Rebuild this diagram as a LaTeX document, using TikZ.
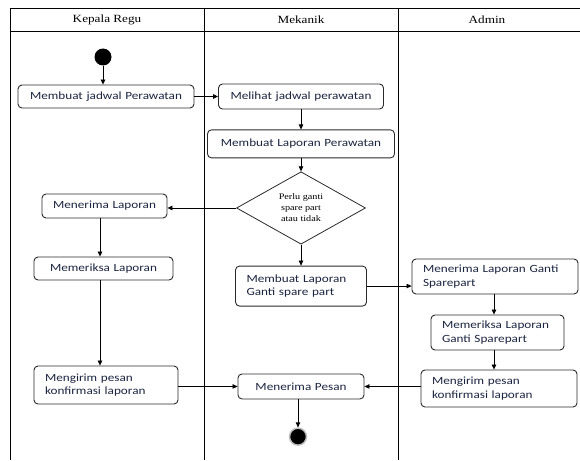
\documentclass[tikz,border=0pt]{standalone}
\usepackage{fontspec}
\newfontfamily\boxfont{Carlito}[FakeStretch=1.2]
\newfontfamily\headfont{Liberation Serif}[FakeStretch=1.2]
\usetikzlibrary{arrows.meta,positioning,shapes.geometric}
\definecolor{ink}{HTML}{1A2440}
\definecolor{rim}{HTML}{2A2A2A}

\begin{document}
\begin{tikzpicture}[
  x=1pt,y=-1pt,
  node distance=20pt,
  box/.style={draw=rim,line width=0.9pt,rounded corners=4pt,inner xsep=11pt,inner ysep=2pt,align=center,
    font=\boxfont\fontsize{11}{13.3}\selectfont,text=ink},
  box2/.style={box,align=left},
  dec/.style={draw=rim,line width=0.8pt,diamond,inner sep=0pt,minimum width=129pt,minimum height=71pt,
    align=center,font=\headfont\fontsize{8.5}{11}\selectfont},
  lane/.style={font=\headfont\fontsize{11}{13}\selectfont},
  dot/.style={circle,fill=black,minimum size=17pt,inner sep=0pt},
  arr/.style={-{Triangle[length=5pt,width=4.5pt]},draw=black,line width=0.7pt}
]
\useasboundingbox (0,0) rectangle (580,460);
% swimlanes
\draw[line width=0.8pt] (10,460) -- (10,8) -- (580,8);
\draw[line width=0.8pt] (10,31) -- (580,31);
\draw[line width=0.8pt] (204,8) -- (204,460);
\draw[line width=0.8pt] (398,8) -- (398,460);
\node[lane] (hKR) at (107,20) {Kepala Regu};
\node[lane] (hMk) at (301,20) {Mekanik};
\node[lane] (hAd) at (487,20) {Admin};
% Mekanik
\node[box,text width=143pt,minimum height=25pt] (lihat) at (301,96.5) {Melihat jadwal perawatan};
\node[box,text width=165pt,minimum height=28pt,below=of lihat] (lapor) {Membuat Laporan Perawatan};
\node[dec,below=13pt of lapor] (cek) {Perlu ganti\\spare part\\atau tidak};
\node[box2,text width=109pt,minimum height=40pt,below=21pt of cek] (ganti) {Membuat Laporan\\Ganti spare part};
\node[box,text width=104pt,minimum height=25pt,below=67pt of ganti] (pesan) {Menerima Pesan};
\node[circle,fill=black,draw=black!25,line width=1.5pt,minimum size=17pt,inner sep=0pt,below=28pt of pesan,xshift=-3pt] (stop) {};
% Kepala Regu
\node[dot] (start) at (103,57) {};
\node[box,text width=154pt,minimum height=23pt] (jadwal) at (106,96.5) {Membuat jadwal Perawatan};
\node[box,text width=103pt,minimum height=24pt] (terima) at (104.5,206) {Menerima Laporan};
\node[box,text width=117pt,minimum height=23pt] (periksa) at (103.5,268.5) {Memeriksa Laporan};
\node[box2,text width=122pt,minimum height=38pt] (kirimA) at (106,385) {Mengirim pesan\\konfirmasi laporan};
% Admin
\node[box2,text width=144pt,minimum height=35pt] (terimaG) at (495,276.5) {Menerima Laporan Ganti\\Sparepart};
\node[box2,text width=111pt,minimum height=35pt] (periksaG) at (497.5,332.5) {Memeriksa Laporan\\Ganti Sparepart};
\node[box2,text width=134pt,minimum height=37pt] (kirimB) at (499,388.5) {Mengirim pesan\\konfirmasi laporan};

\draw[arr] (start) -- (start |- jadwal.north);
\draw[arr] (jadwal) -- (lihat);
\draw[arr] (lihat) -- (lapor);
\draw[arr] (lapor) -- (cek);
\draw[arr] (cek.west) -- (cek.west -| terima.east);
\draw[arr] (cek) -- (ganti);
\draw[arr] (terima.south -| 100,0) -- (periksa.north -| 100,0);
\draw[arr] (periksa.south -| 100,0) -- (kirimA.north -| 100,0);
\draw[arr] (ganti.east) -- (terimaG.west |- ganti.east);
\draw[arr] (terimaG.south -| 494,0) -- (periksaG.north -| 494,0);
\draw[arr] (periksaG.south -| 494,0) -- (kirimB.north -| 494,0);
\draw[arr] (kirimA.east |- pesan.west) -- (pesan.west);
\draw[arr] (kirimB.west |- pesan.east) -- (pesan.east);
\draw[arr] (pesan.south -| stop) -- (stop);
\end{tikzpicture}
\end{document}
